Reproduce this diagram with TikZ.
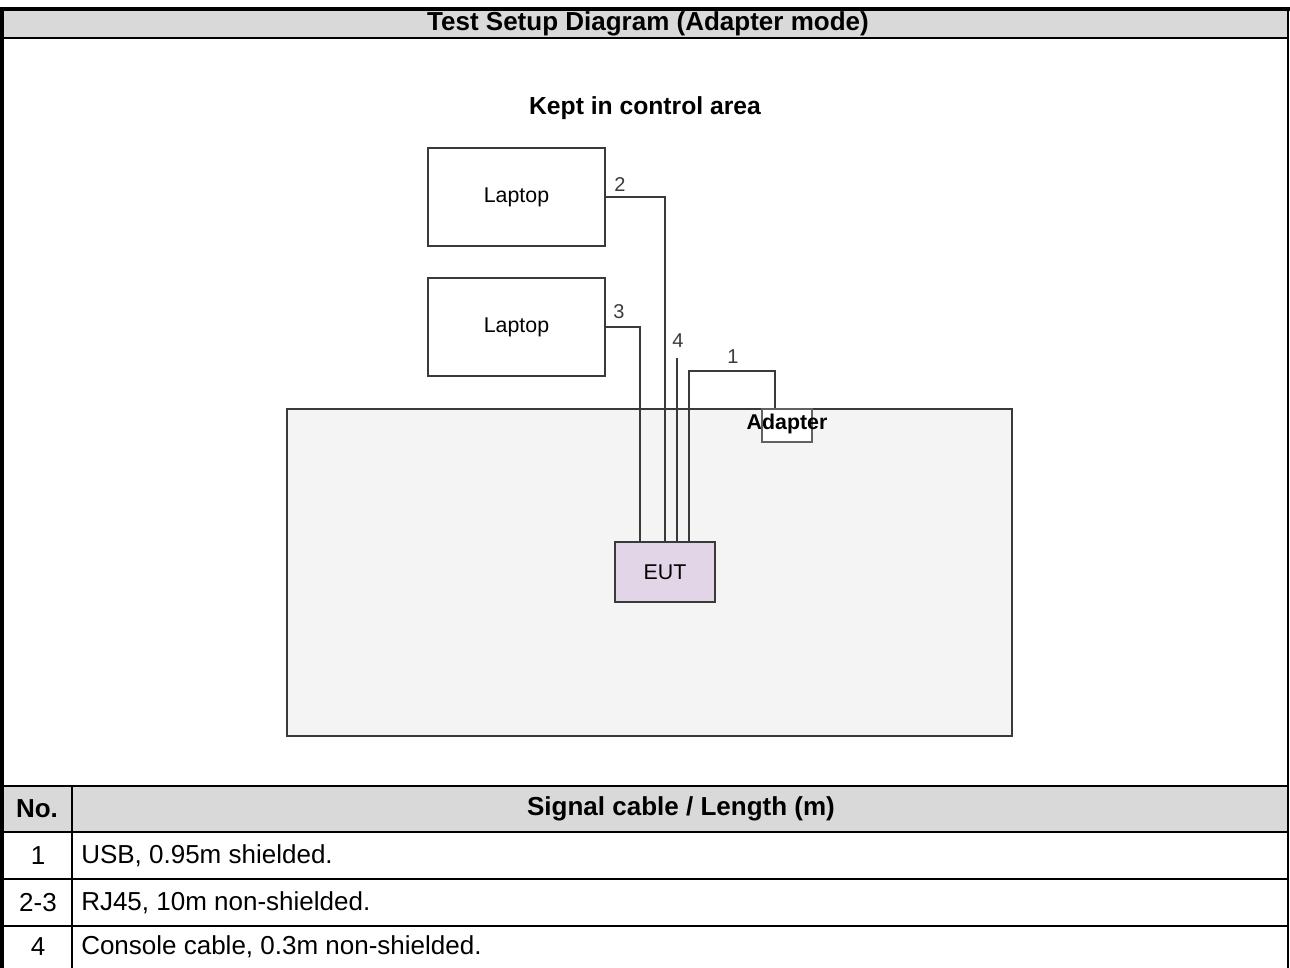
\documentclass[tikz,border=0pt]{standalone}
\usepackage{fontspec}
\setmainfont{Liberation Sans}
\definecolor{headgray}{HTML}{D9D9D9}
\definecolor{areagray}{HTML}{F4F4F4}
\definecolor{linegray}{HTML}{3A3A3A}
\definecolor{eutpurple}{HTML}{E1D5E7}
\begin{document}
\begin{tikzpicture}
  [x=0.75pt,y=-0.75pt,
   every node/.style={inner sep=0pt},
   laptop/.style={draw=linegray,line width=1.5pt,fill=white,minimum width=132.75pt,minimum height=73.5pt,font=\fontsize{16}{19}\selectfont},
   eutbox/.style={draw=linegray,line width=1.5pt,fill=eutpurple,minimum width=75pt,minimum height=45pt,font=\fontsize{16}{19}\selectfont},
   adpbox/.style={draw=linegray!80,line width=1.2pt,fill=white,minimum width=37.5pt,minimum height=24.75pt},
   area/.style={draw=linegray,line width=0.9pt,fill=areagray,minimum width=543.75pt,minimum height=245.25pt},
   cable/.style={draw=linegray,line width=1.4pt},
   num/.style={font=\fontsize{15}{18}\selectfont,text=linegray},
   head/.style={font=\bfseries\fontsize{19.5}{23}\selectfont},
   cell/.style={anchor=west,font=\fontsize{19.5}{23}\selectfont},
   rule/.style={line width=2pt}]
  \useasboundingbox (0,0) rectangle (1290,968);

  % frame and headers
  \fill[headgray] (3,10) rectangle (1288,38);
  \fill[headgray] (3,786) rectangle (1288,832);
  \draw[line width=3pt] (0,9) -- (1290,9);
  \draw[line width=3pt] (2,8) -- (2,968);
  \draw[line width=1pt] (1288,9) -- (1288,968);
  \draw[rule] (3,38) -- (1288,38);
  \draw[line width=1.2pt] (3,786) -- (1288,786);
  \foreach \y in {832,879,926}
    \draw[rule] (3,\y) -- (1288,\y);
  \draw[line width=1.5pt] (72,786) -- (72,968);

  \node[head] (title) at (648,24) {Test Setup Diagram (Adapter mode)};

  % setup
  \node[font=\bfseries\fontsize{18.5}{22}\selectfont] (kept) at (645,108) {Kept in control area};
  \node[area] (desk) at (649.5,572.5) {};
  \node[laptop] (lap1) at (516.5,197) {Laptop};
  \node[laptop] (lap2) at (516.5,327) {Laptop};
  \node[eutbox] (eut) at (665,572) {EUT};
  \node[adpbox] (adp) at (787,425.5) {};
  \coordinate (c4) at (677,358);

  \draw[cable] (lap1.east) -| (eut.north);
  \draw[cable] (lap2.east) -| ([xshift=-18.75pt]eut.north);
  \draw[cable] (c4) -- (c4 |- eut.north);
  \draw[cable] ([xshift=18pt]eut.north) -- ++(0,-170) -| ([xshift=-9pt]adp.north);

  \node[font=\bfseries\fontsize{16}{19}\selectfont] (adptext) at (787,424) {Adapter};
  \node[num] (n1) at (733,357) {1};
  \node[num] (n2) at (620,185) {2};
  \node[num] (n3) at (619,312) {3};
  \node[num] (n4) at (678,341) {4};

  % cable table
  \node[head] (hno) at (37,809) {No.};
  \node[head] (hcab) at (681,809) {Signal cable / Length (m)};
  \foreach \no/\txt/\y in {1/{USB, 0.95m shielded.}/855.5,
                           2-3/{RJ45, 10m non-shielded.}/902.5,
                           4/{Console cable, 0.3m non-shielded.}/947}
  {
    \node[font=\fontsize{19.5}{23}\selectfont] at (38,\y) {\no};
    \node[cell] at (81,\y) {\txt};
  }
\end{tikzpicture}
\end{document}
